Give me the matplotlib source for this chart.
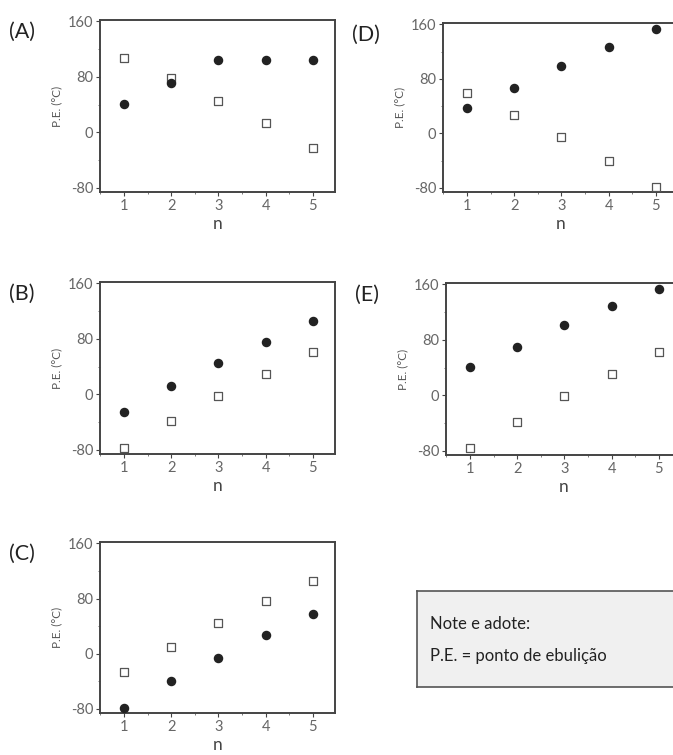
import numpy as np
import matplotlib.pyplot as plt
from matplotlib.ticker import MultipleLocator

plt.rcParams['font.family'] = ['Lato', 'DejaVu Sans']
plt.rcParams['axes.unicode_minus'] = False

n = [1, 2, 3, 4, 5]

# filled circles / open squares for each option
a_filled = [41, 71, 104, 104, 104]
a_open = [107, 78, 45, 13, -22]
b_filled = [-25, 12, 45, 76, 106]
b_open = [-77, -38, -3, 30, 61]
c_filled = [-79, -40, -6, 27, 57]
c_open = [-26, 10, 44, 76, 106]
d_filled = [37, 67, 99, 127, 153]
d_open = [59, 27, -6, -40, -79]
e_filled = [41, 70, 101, 129, 154]
e_open = [-76, -38, -1, 31, 62]

yticks = [-80, 0, 80, 160]
W, H = 673, 755


def box(l, t, r, b):
    return [l / W, 1 - b / H, (r - l) / W, (b - t) / H]


fig = plt.figure(figsize=(W / 100, H / 100), dpi=100)

panels = [
    ("(A)", (100, 20, 335, 192), a_filled, a_open),
    ("(D)", (443, 23, 678, 192), d_filled, d_open),
    ("(B)", (100, 282, 335, 454), b_filled, b_open),
    ("(E)", (446, 283, 681, 455), e_filled, e_open),
    ("(C)", (100, 542, 335, 713), c_filled, c_open),
]

for label, (l, t, r, b), filled, opened in panels:
    ax = fig.add_axes(box(l, t, r, b))
    ax.scatter(n, opened, marker='s', s=34, facecolors='white',
               edgecolors='#555555', linewidths=0.9, zorder=3)
    ax.scatter(n, filled, marker='o', s=34, color='#222222', zorder=4)
    ax.set_xlim(0.49, 5.47)
    ax.set_ylim(-86, 162)
    ax.set_xticks(n)
    ax.set_yticks(yticks)
    ax.xaxis.set_minor_locator(MultipleLocator(0.5))
    ax.yaxis.set_minor_locator(MultipleLocator(40))
    ax.tick_params(which='major', length=3, width=0.8, color='#444444',
                   labelsize=10.5, labelcolor='#666666', pad=2)
    ax.tick_params(which='minor', length=1.5, width=0.6, color='#666666')
    for s in ax.spines.values():
        s.set_color('#444444')
        s.set_linewidth(1.4)
    ax.set_xlabel("n", fontsize=12.5, color='#444444', labelpad=2)
    ax.set_ylabel("P.E. (°C)", fontsize=8.5, color='#555555', labelpad=4)
    fig.text((l - 91) / W, 1 - (t + 12) / H, label, fontsize=15.5,
             color='#222222', va='center', ha='left')

# note box
note = fig.add_axes(box(417, 591, 676, 687))
note.set_facecolor('#f0f0f0')
note.set_xticks([])
note.set_yticks([])
for s in note.spines.values():
    s.set_color('#555555')
    s.set_linewidth(1.2)
note.text(0.05, 0.66, "Note e adote:", fontsize=12, color='#222222',
          transform=note.transAxes, va='center')
note.text(0.05, 0.32, "P.E. = ponto de ebulição", fontsize=12,
          color='#222222', transform=note.transAxes, va='center')

plt.savefig("out.png", dpi=100)
